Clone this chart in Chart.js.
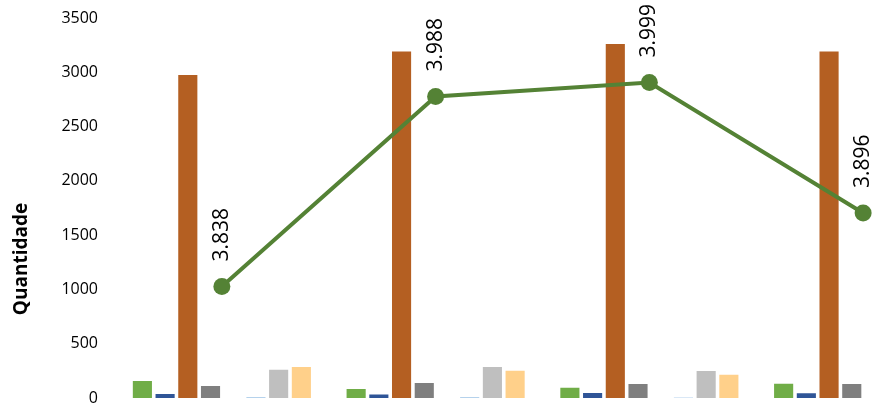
<!DOCTYPE html>
<html>
<head>
<meta charset="utf-8">
<script src="https://cdn.jsdelivr.net/npm/chart.js@4/dist/chart.umd.min.js"></script>
<style>
  html, body { margin: 0; padding: 0; background: #fff; overflow: hidden; }
</style>
</head>
<body>
<canvas id="grafico" width="990" height="411"></canvas>
<script>
// data
var categorias = ["2019", "2020", "2021", "2022"];
var serieVerde = [165, 92, 104, 141];
var serieAzul = [45, 42, 55, 52];
var serieLaranja = [2985, 3200, 3270, 3200];
var serieCinza = [120, 147, 138, 138];
var serieVazia = [null, null, null, null];
var serieAzulClaro = [15, 15, 8, 12];
var serieCinzaClaro = [270, 295, 258, 260];
var serieLaranjaClaro = [295, 260, 224, 230];
var media = [3.838, 3.988, 3.999, 3.896];
var ticksY = [0, 500, 1000, 1500, 2000, 2500, 3000, 3500];

var verde = '#70ad47';
var azul = '#2f5597';
var laranja = '#b45f22';
var cinza = '#7f7f7f';
var azulClaro = '#9dc3e6';
var cinzaClaro = '#bfbfbf';
var laranjaClaro = '#ffd08a';
var verdeLinha = '#548235';

function barra(nome, dados, cor) {
  return {
    type: 'bar',
    label: nome,
    data: dados,
    backgroundColor: cor,
    borderColor: 'rgba(255,255,255,0.6)',
    borderWidth: 1,
    yAxisID: 'y',
    order: 1
  };
}

// labels rotated above the line points + axis title
var rotulos = {
  id: 'rotulos',
  afterDatasetsDraw: function (chart) {
    var ctx = chart.ctx;
    var meta = chart.getDatasetMeta(8);
    ctx.save();
    ctx.fillStyle = '#000';
    ctx.font = '21px "Open Sans"';
    ctx.textAlign = 'left';
    ctx.textBaseline = 'middle';
    meta.data.forEach(function (p, i) {
      ctx.save();
      ctx.translate(p.x, p.y - 25);
      ctx.rotate(-Math.PI / 2);
      ctx.fillText(media[i].toFixed(3), 0, 0);
      ctx.restore();
    });
    ctx.restore();

    ctx.save();
    ctx.fillStyle = '#000';
    ctx.font = 'bold 19px "Open Sans"';
    ctx.textAlign = 'center';
    ctx.textBaseline = 'middle';
    ctx.translate(22, 259);
    ctx.rotate(-Math.PI / 2);
    ctx.fillText('Quantidade', 0, 0);
    ctx.restore();
  }
};

var ctx = document.getElementById('grafico').getContext('2d');
var myChart = new Chart(ctx, {
  data: {
    labels: categorias,
    datasets: [
      barra('Série 1', serieVerde, verde),
      barra('Série 2', serieAzul, azul),
      barra('Série 3', serieLaranja, laranja),
      barra('Série 4', serieCinza, cinza),
      barra('Série 5', serieVazia, '#ffffff'),
      barra('Série 6', serieAzulClaro, azulClaro),
      barra('Série 7', serieCinzaClaro, cinzaClaro),
      barra('Série 8', serieLaranjaClaro, laranjaClaro),
      {
        type: 'line',
        label: 'Média',
        data: media,
        borderColor: verdeLinha,
        backgroundColor: verdeLinha,
        borderWidth: 4,
        pointRadius: 8.5,
        pointHoverRadius: 8.5,
        pointBorderWidth: 0,
        tension: 0,
        yAxisID: 'y1',
        order: 0
      }
    ]
  },
  plugins: [rotulos],
  options: {
    responsive: false,
    animation: false,
    layout: { padding: { left: 0, right: 20, top: 18, bottom: 13 } },
    plugins: {
      legend: { display: false },
      tooltip: { enabled: false }
    },
    datasets: {
      bar: { categoryPercentage: 0.85, barPercentage: 0.93 }
    },
    scales: {
      x: {
        display: false,
        offset: true
      },
      y: {
        min: 0,
        max: 3500,
        afterBuildTicks: function (scale) {
          scale.ticks = ticksY.map(function (v) { return { value: v }; });
        },
        afterFit: function (scale) {
          scale.width = 115;
          scale.paddingTop = 0;
          scale.paddingBottom = 0;
        },
        grid: { display: false, drawTicks: false },
        border: { display: false },
        ticks: {
          padding: 17,
          color: '#000',
          font: { family: '"Open Sans"', size: 16 },
          callback: function (v) { return String(v); }
        }
      },
      y1: {
        display: false,
        position: 'right',
        min: 3.75,
        max: 4.05
      }
    }
  }
});
</script>
</body>
</html>
